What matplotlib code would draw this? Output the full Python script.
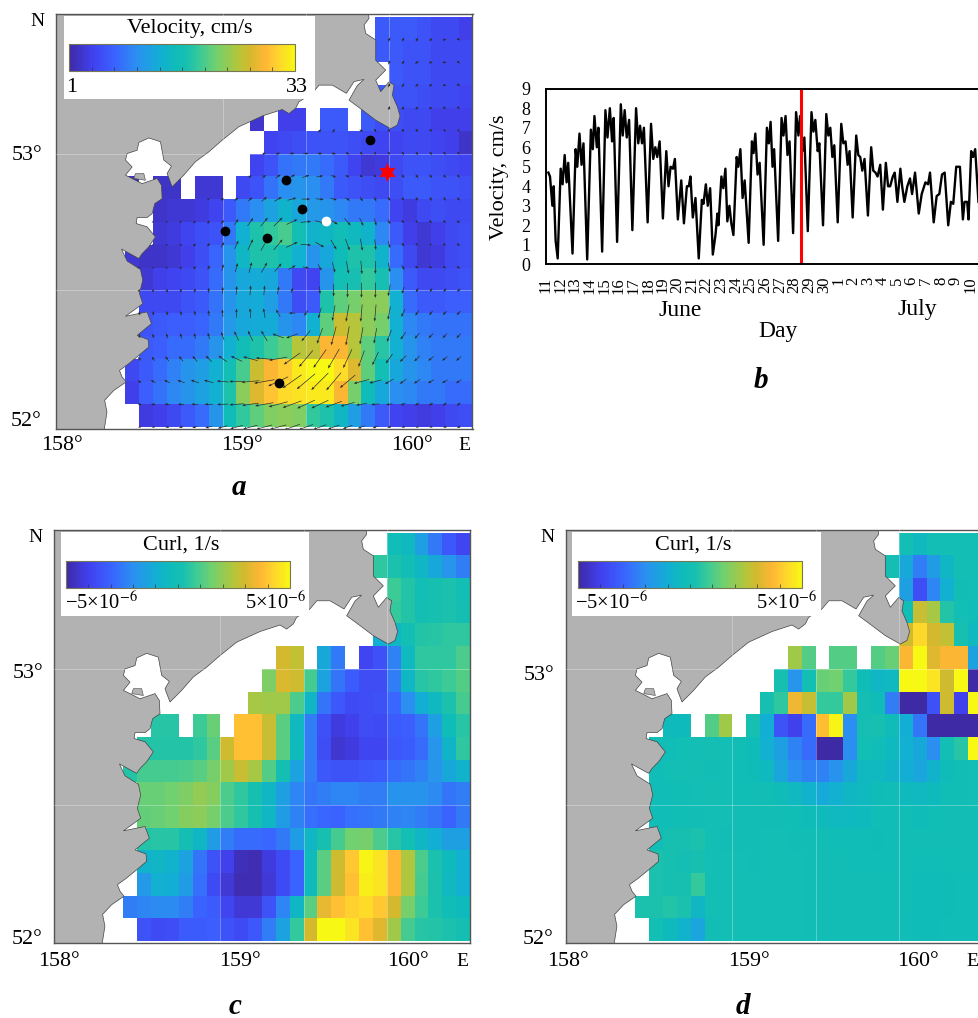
# plot.py - current velocity and curl maps off Kamchatka, with a velocity series
import numpy as np
import matplotlib
matplotlib.use('Agg')
from matplotlib import pyplot as plt
from matplotlib.colors import LinearSegmentedColormap

plt.rcParams['font.family'] = ['Liberation Serif', 'DejaVu Sans']
plt.rcParams['mathtext.fontset'] = 'stix'

W, H = 979, 1018
n = np.nan

# grid of the maps: cell edges in degrees
lon_edges = 158.0 + (np.arange(26) + 5) / 12
lat_edges = 52.0 + np.arange(19) / 12

# velocity, cm/s, northernmost row first
velocity = [
    [n]*18 + [6.5,6.5,6.5,6,5,5,4],
    [n]*18 + [6.5,6.5,6,6,5,5,5],
    [n]*19 + [6.5,6,6,5,5,5],
    [n]*18 + [6.5,6,6,5.5,5,5,4.5],
    [n]*9 + [2.8,n,4,4,n,6.5,6.5,n,6.5,5.5,5.5,5,5,4,4,4],
    [n]*10 + [4.5,5,5.5,6,6,6,5.5,5,4.5,4.5,5,5,4.5,4,2.5],
    [n]*9 + [4.5,6,8.5,9,9,8,6.5,4.5,3,3.5,5,6,6,5.5,5,4.5],
    [2,n,2.5,2.5,n,3,3,n,5,6,8.5,10.5,11,10.5,9,6.5,6,5.5,5,5.5,6.5,6.5,6,6,5.5],
    [n,n,2.5,3,3,3.5,4.5,6.5,9,10.5,12.5,14.5,13,11.5,11,10,9,9,8,4.5,3.5,5,5.5,5,5],
    [n,n,3,3.5,4.5,5.5,6,9,14,18,19,20,17,14.5,15,16.5,15.5,14.5,10,6.5,4,3,4,5,5.5],
    [3,2.5,2.5,3,4,5.5,7.5,11,15,18,18,17,14,11,13,16,18,18,14.5,8,5,3,3.5,5,5.5],
    [n,3,4,4.5,5,6,8,11,13,13.5,13,9,5,4.5,11,17,17.5,19,17.5,10.5,6.5,5,5,5.5,6],
    [n,5,5,5,6,6.5,8.5,11,13,13.5,12,9,5.5,6.5,18,21,22,23,23,14,8,6.5,6.5,7,7],
    [n,6,6.5,7,7,7.5,9,11.5,13,13.5,13.5,11,10,14,21,26,25,23,22,14,10,9,8.5,8.5,8.5],
    [n,6.5,7,8,8,9,11,14,16.5,18,19.5,21,25,25.5,28.5,28.5,25,21,18.5,14,11,9.5,9,9,9],
    [5,6.5,8,9.5,11,12,14,17,20,26,28.5,30,32,33,33,31,27,21,17,13,11,10,9,9,9],
    [4,7,8.5,10,11,12.5,14,18,23,27,29.5,31,31.5,32,32,28.5,22,16,13,10.5,10,9,9,8,8],
    [n,3.5,4,5,6.5,8,11,16,19,21,22.5,23,22.5,19,18,15,12,9,6.5,4.5,4,3.5,4,5,5.5],
]

# current direction at the cell corners, degrees from east, northernmost first
direction = [
    [n]*19 + [60,60,60,50,20,-30],
    [n]*19 + [60,55,45,20,0,-40],
    [n]*19 + [65,60,50,30,0,-30],
    [n]*19 + [75,60,50,30,-10,-40],
    [n]*14 + [50,60,n,-30,-60,-60,-60,-60,-60,-60,-60],
    [n]*10 + [20,20,10,0,0,-10,-30,-50,-60,-60,-60,-60,-60,-60,-60],
    [n]*9 + [30,35,35,30,20,10,-20,-30,-30,-40,-50,-50,-55,-50,-50,-50],
    [n]*6 + [30,35,40,40,40,30,15,0,-5,-15,-30,-60,-70,-60,-55,-55,-60,-60,-45],
    [n,n,0,10,20,30,45,50,55,55,50,45,25,5,-15,-30,-50,-65,-75,-60,-50,-45,-45,-45,-30],
    [n,n,20,25,30,35,40,60,65,65,60,50,25,-5,-30,-60,-70,-80,-85,-75,-60,-50,-40,-30,-30],
    [n,10,30,40,50,55,65,75,75,75,60,50,30,-10,-60,-75,-80,-85,-90,-80,-60,-40,-30,-30,-25],
    [n,60,70,80,80,80,85,85,85,85,85,80,70,n,-85,-90,-90,-90,-90,-100,-110,-120,-120,-130,-140],
    [n,90,95,100,100,100,100,95,90,95,100,120,180,-120,-105,-100,-100,-95,-95,-100,-115,-125,-130,-135,-135],
    [n,110,110,110,110,105,105,110,115,115,120,160,200,-130,-110,-105,-100,-100,-100,-110,-125,-130,-135,-135,-135],
    [n,130,125,125,130,130,135,145,155,165,175,190,215,-130,-125,-120,-115,-110,-115,-125,-135,-135,-140,-140,-140],
    [n,145,150,155,160,160,165,175,180,185,190,205,215,-140,-135,-130,-140,-165,-165,-150,-145,-145,-150,-150,-145],
    [n,165,170,175,178,178,180,182,185,188,190,195,200,205,205,200,195,190,185,190,200,210,210,215,215],
    [n,195,195,195,195,195,195,195,195,195,195,195,200,200,200,200,200,200,200,200,205,205,205,205,205],
]

# stations on map a: lon, lat
station_lon = [159.884, 159.379, 159.475, 159.016, 159.268, 159.337]
station_lat = [53.051, 52.905, 52.796, 52.715, 52.690, 52.161]
white_lon, white_lat = 159.623, 52.752
star_lon, star_lat = 159.989, 52.931

# curl, 1e-6 1/s, northernmost row first
curl_c = [
    [n]*19 + [-.2,-.5,-1.5,-2.5,-3.3,-3.8],
    [n]*18 + [.6,.3,-.1,-.6,-1.2,-1.8,-2.4],
    [n]*19 + [.8,.4,0,.2,.3,0],
    [n]*19 + [.7,.4,.1,.2,.3,.1],
    [n]*18 + [-1,-.6,0,.4,.5,.6,.6],
    [n]*11 + [3,2.7,n,-1.2,-2.5,n,-3.8,-3.5,-2.3,-.5,.6,.6,.6,1],
    [n]*10 + [1.7,3.1,2.9,.9,-1.4,-2.6,-3.2,-3.6,-3.6,-2.4,-.6,.5,.6,.8,1.1],
    [n]*9 + [2.3,2.2,2.2,1,-.6,-2.6,-3.3,-3.7,-3.6,-3.5,-2.9,-2,-1,-.5,.3,.9],
    [n,n,.5,.5,n,.8,1.4,n,3.9,3.9,2.8,1.2,-.5,-2.4,-3.5,-4.2,-4,-3.6,-3.7,-3.2,-3.1,-2.6,-1.5,-.3,.5],
    [n,.4,.4,.4,.4,.6,1.2,2.9,3.9,3.9,2.8,1.2,-.4,-2.4,-3.6,-4.4,-4.2,-3.8,-3.8,-3.3,-3.2,-2.8,-1.8,-.7,.6],
    [.4,.9,.9,.9,1,1.2,1.6,2.2,2.8,2.3,1.1,.1,-1.4,-2.4,-3.3,-3.4,-3.4,-3.3,-3.2,-2.8,-2.6,-2.3,-1.8,-1.2,-.8],
    [n,1.4,1.4,1.5,1.7,2,1.8,1,.6,.2,-.6,-1.5,-2.2,-2.6,-2.4,-2.2,-2.2,-2.4,-2.4,-1.9,-1.9,-1.9,-2.1,-2.6,-2.4],
    [n,1.3,1.4,1.5,1.8,1.9,1.6,1,.6,.2,-.6,-1.6,-2.3,-2.7,-2.9,-3,-2.7,-2.6,-2.5,-2.3,-2.2,-2.4,-2.6,-3,-2.5],
    [n,.4,.5,.5,.1,-.6,-1.6,-2.4,-2.8,-2.8,-2.9,-2.5,-1.6,-.6,.2,.9,1.5,1.6,1,.5,0,-.6,-1,-1.5,-1.5],
    [n,-.8,-.6,-.8,-1.4,-2.6,-3.4,-4,-4.7,-4.8,-4.2,-3.7,-3,-.4,1.2,2.9,4,4.9,4.6,3.7,2.4,1,.3,-.4,-.9],
    [n,-1.7,-.9,-1,-1.6,-2.7,-3.7,-4.3,-4.8,-4.8,-4.3,-3.7,-3,-.4,1.2,2.9,3.9,4.8,4.6,3.7,2.4,.9,.3,-.5,-.9],
    [-2.4,-2.2,-2.1,-2.1,-2.4,-3,-3.2,-3.8,-4.3,-4.3,-3.4,-2.2,-.6,1.2,3.3,3.9,4.2,4.4,4,3,1.6,.8,.3,-.2,-.4],
    [n,-3.4,-3.7,-3.6,-3.2,-3.2,-3.1,-3.4,-3.7,-3.3,-2.4,-1.4,.7,3,5,5,4.6,3.9,3.2,2.2,.9,.5,.4,.3,.1],
]

curl_d = [
    [n]*19 + [0,-.5,0,0,0,0],
    [n]*18 + [.1,-1.2,-2.4,-1.6,-.6,0,0],
    [n]*19 + [-1.5,-3.6,-2.2,-.9,-.1,0],
    [n]*19 + [-.2,2.8,2.3,.4,0,-.2],
    [n]*19 + [2.9,4.3,3,2.7,.2,-.5],
    [n]*11 + [2.2,1.1,n,1.1,1.1,n,1.1,1.4,3.6,5,3.2,3.6,3.6,-1.4],
    [n]*10 + [.2,-1.8,0,1.4,1.5,.7,-.3,-.6,-.5,5,5,4.6,2.9,5,-5],
    [n]*9 + [.2,.6,3.4,2.8,.7,.7,2.2,.1,-.3,-2.4,-5,-5,-3.5,2.9,-4,5],
    [n,n,-.4,-.4,n,1.1,2.2,n,.2,-1,-3.4,-4,-2.8,3.8,4.9,-2,.1,.2,-.3,-1,-2.6,-5,-5,-5,-5],
    [n,-.2,-.2,0,0,.1,0,-.1,-.3,-.9,-1.5,-2.3,-2.8,-5,-5,-2,0,-.2,-.5,-.9,-1.2,-2,0,.5,5],
    [n,-.2,0,.1,.1,-.1,0,-.2,-.3,-.5,-1.3,-2,-2.3,-2.3,-1.9,-1.2,-.5,-.5,-.7,-1,-1.3,-.8,-.3,-.1,0],
    [n,-.2,-.2,-.1,0,.1,0,-.2,-.1,-.1,-.3,-.5,-.8,-1.1,-.9,-.6,-.5,-.3,-.2,-.4,-.5,-.4,-.2,-.1,0],
    [n,-.2,-.2,-.1,-.1,0,0,-.1,-.1,-.1,-.1,-.2,-.3,-.4,-.5,-.5,-.4,-.2,-.2,-.2,-.3,-.2,-.1,-.1,-.1],
    [n,-.2,.2,.2,.3,0,-.1,-.1,-.1,0,0,-.1,-.1,-.1,-.2,-.2,-.2,-.3,-.2,-.2,-.1,-.1,-.1,-.1,-.1],
    [n,.3,.2,.1,.2,0,0,0,-.1,0,0,0,-.1,-.1,-.1,-.2,-.2,-.2,-.2,-.2,-.2,-.2,-.2,-.1,-.1],
    [n,.3,.2,.2,.7,0,0,0,0,0,0,0,-.1,-.1,-.1,-.1,-.1,-.1,-.2,-.2,-.3,-.3,-.3,-.2,-.2],
    [.3,.3,.4,.3,-.6,0,0,0,0,0,0,0,-.1,-.1,-.1,-.1,-.1,-.1,-.2,-.2,-.3,-.3,-.3,-.2,-.2],
    [n,0,-.4,-.8,-1.3,-.1,0,0,0,0,0,0,-.1,-.1,-.1,-.1,-.1,-.1,-.1,-.2,-.3,-.3,-.2,-.2,-.2],
]

# land outline, degrees
coast_lon = [158.0, 159.859, 159.879, 159.849, 159.859, 159.919, 159.919, 159.979, 159.919, 159.949,
    159.999, 160.029, 160.019, 160.049, 160.065, 160.049, 160.009, 159.919, 159.839, 159.759,
    159.809, 159.849, 159.789, 159.743, 159.659, 159.579, 159.538, 159.458, 159.438, 159.398,
    159.358, 159.238, 159.098, 158.998, 158.917, 158.837, 158.767, 158.697, 158.667, 158.693,
    158.647, 158.627, 158.557, 158.497, 158.487, 158.427, 158.417, 158.457, 158.417, 158.517,
    158.607, 158.633, 158.637, 158.593, 158.577, 158.547, 158.487, 158.481, 158.547, 158.597,
    158.557, 158.517, 158.497, 158.393, 158.427, 158.507, 158.521, 158.501, 158.521, 158.417,
    158.547, 158.573, 158.487, 158.553, 158.557, 158.497, 158.437, 158.381, 158.397, 158.421,
    158.347, 158.292, 158.306, 158.266, 158.0]
coast_lat = [53.6, 53.6, 53.494, 53.470, 53.439, 53.415, 53.341, 53.305, 53.268, 53.226,
    53.262, 53.250, 53.213, 53.171, 53.137, 53.104, 53.091, 53.122, 53.159, 53.195,
    53.249, 53.271, 53.263, 53.220, 53.250, 53.250, 53.220, 53.189, 53.165, 53.146,
    53.161, 53.137, 53.098, 53.049, 53.006, 52.970, 52.921, 52.878, 52.927, 52.954,
    52.976, 53.043, 53.057, 53.040, 53.012, 53.000, 52.976, 52.951, 52.921, 52.890,
    52.909, 52.884, 52.835, 52.817, 52.780, 52.766, 52.766, 52.744, 52.732, 52.695,
    52.659, 52.634, 52.616, 52.651, 52.607, 52.576, 52.537, 52.488, 52.451, 52.405,
    52.421, 52.378, 52.335, 52.320, 52.293, 52.262, 52.232, 52.207, 52.183, 52.165,
    52.134, 52.098, 52.055, 51.9, 51.9]
island_lon = [158.477, 158.527, 158.537, 158.467]
island_lat = [52.927, 52.927, 52.902, 52.909]

# series b: days since 11 June, velocity in cm/s
days = [.07,.18,.34,.43,.56,.70,.90,1.03,1.17,1.30,1.41,1.70,1.91,2.02,2.17,2.31,2.44,2.69,2.94,3.07,
    3.18,3.34,3.45,3.70,3.92,4.06,4.22,4.37,4.48,4.71,4.96,5.09,5.22,5.36,5.52,5.74,5.99,6.14,6.26,6.39,
    6.52,6.77,7.00,7.15,7.29,7.42,7.58,7.80,8.03,8.18,8.32,8.48,8.61,8.81,9.04,9.22,9.42,9.55,9.66,9.82,
    10.0,10.22,10.43,10.54,10.70,10.83,10.99,11.17,11.35,11.48,11.55,11.75,11.88,12.02,12.15,12.29,12.42,12.56,12.78,12.89,
    13.03,13.18,13.32,13.59,13.81,13.92,14.04,14.19,14.33,14.60,14.82,14.95,15.07,15.20,15.31,15.58,15.81,15.94,16.08,16.21,
    16.35,16.59,16.79,16.95,17.06,17.22,17.35,17.58,17.83,17.96,18.09,18.25,18.36,18.61,18.83,18.97,19.10,19.24,19.37,19.60,
    19.84,19.98,20.13,20.27,20.40,20.61,20.85,20.99,21.12,21.26,21.41,21.64,21.86,22.0,22.15,22.29,22.47,22.65,22.85,23.0,
    23.14,23.32,23.45,23.63,23.83,23.95,24.10,24.30,24.48,24.62,24.82,25.07,25.27,25.52,25.70,25.83,26.08,26.28,26.46,26.64,
    26.82,27.06,27.24,27.40,27.60,27.85,28.05,28.16,28.34,28.43,28.61,28.74,28.88,29.10]
speed = [4.7,4.5,3.0,4.0,1.2,.3,4.9,4.1,5.6,4.2,5.2,.55,5.9,5.0,6.7,5.1,6.2,.25,6.9,5.9,
    7.6,6.0,7.0,.65,7.9,6.5,8.0,6.3,7.5,1.15,8.2,6.6,7.9,6.5,7.4,1.75,8.0,6.2,7.1,6.2,
    7.0,2.15,7.2,5.4,6.0,5.5,6.3,2.35,5.8,4.0,5.0,4.9,5.4,2.3,4.3,2.1,4.0,4.0,4.5,2.4,
    3.4,.3,3.3,3.1,4.1,3.0,3.9,.5,1.5,2.6,2.0,4.5,3.9,4.9,2.2,3.0,2.1,1.5,5.5,5.0,
    5.9,3.4,4.3,1.1,6.3,5.7,6.7,4.6,5.2,1.0,7.0,6.2,7.3,5.0,5.9,1.2,7.5,6.6,7.6,5.6,
    6.3,1.6,7.8,6.6,7.6,5.8,6.5,1.7,7.8,6.8,7.4,5.8,6.2,2.0,7.7,6.6,7.0,5.5,6.1,2.15,
    7.2,6.2,6.3,5.1,5.8,2.4,6.6,5.6,5.5,4.8,5.4,2.5,6.0,4.8,4.7,4.5,5.1,2.8,5.2,4.0,
    4.0,4.5,4.7,3.2,4.9,4.0,3.2,4.0,4.4,3.6,4.7,2.6,3.6,4.2,4.1,4.7,2.15,3.5,3.6,4.6,
    4.7,2.0,3.2,3.1,5.0,5.0,2.3,3.2,3.2,2.3,5.8,5.5,5.9,3.2]
day_labels = [str(d) for d in range(11, 31)] + [str(d) for d in range(1, 11)]
marked_day = 17.1

# colours
bar_stops = [(0, '#3f2aa6'), (.1, '#4040ee'), (.2, '#3a62ff'), (.3, '#2a90f0'), (.4, '#12aed4'),
             (.47, '#0fbcb8'), (.52, '#16bfb1'), (.57, '#34c99c'), (.65, '#70d070'), (.75, '#b4c63a'),
             (.8, '#d4b92e'), (.87, '#ffb735'), (.92, '#ffd030'), (1, '#f7f813')]
cmap = LinearSegmentedColormap.from_list('bar', bar_stops)
land_color = '#b2b2b2'


def px_axes(left, top, right, bottom, **kw):
    return fig.add_axes([left/W, 1-bottom/H, (right-left)/W, (bottom-top)/H], **kw)


def px_text(x, y, s, size=15.8, ha='center', **kw):
    fig.text(x/W, 1-y/H, s, fontsize=size, ha=ha, va='center', zorder=20, **kw)


def draw_map(box, values, vmin, vmax):
    ax = px_axes(*box)
    ax.set_facecolor('white')
    mesh = ax.pcolormesh(lon_edges, lat_edges, np.array(values)[::-1], cmap=cmap, vmin=vmin, vmax=vmax,
                         linewidth=0, rasterized=True, zorder=1)
    ax.fill(coast_lon, coast_lat, facecolor=land_color, edgecolor='#444444', linewidth=.5, zorder=2)
    ax.fill(island_lon, island_lat, facecolor=land_color, edgecolor='#444444', linewidth=.4, zorder=2)
    for x in [159, 159.5, 160]:
        ax.axvline(x, color='white', lw=.6, alpha=.35, zorder=3)
    for y in [52.5, 53]:
        ax.axhline(y, color='white', lw=.6, alpha=.35, zorder=3)
    ax.set_xlim(158, 160.5)
    ax.set_ylim(51.993, 53.51)
    ax.set_xticks([])
    ax.set_yticks([])
    for s in ax.spines.values():
        s.set_color('#555555')
        s.set_linewidth(1)
    return ax, mesh


def draw_legend(box, bar, mesh, title, title_xy):
    lg = px_axes(*box, zorder=5)
    lg.set_xticks([])
    lg.set_yticks([])
    for s in lg.spines.values():
        s.set_visible(False)
    cax = px_axes(*bar, zorder=6)
    cb = fig.colorbar(mesh, cax=cax, orientation='horizontal')
    cb.set_ticks(np.linspace(mesh.norm.vmin, mesh.norm.vmax, 11)[1:-1])
    cax.tick_params(direction='in', length=3, width=.5, color='#333333', labelbottom=False)
    cb.outline.set_edgecolor('#777755')
    cb.outline.set_linewidth(.8)
    px_text(title_xy[0], title_xy[1], title, size=16)


fig = plt.figure(figsize=(W/100, H/100), dpi=100)

# map a
ax_a, mesh_a = draw_map((56, 14, 472.5, 429), velocity, 1, 33)
vel = np.array(velocity)[::-1]
ang = np.radians(np.array(direction, dtype=float)[::-1])
node_lon, node_lat = np.meshgrid(lon_edges[:-1], lat_edges[:-1])
node_speed = np.full(ang.shape, np.nan)
for k in range(ang.shape[0]):
    for j in range(ang.shape[1]):
        near = vel[max(k-1, 0):k+1, max(j-1, 0):j+1]
        if np.isfinite(near).any():
            node_speed[k, j] = np.nanmean(near)
ax_a.quiver(node_lon, node_lat, node_speed*np.cos(ang), node_speed*np.sin(ang), angles='uv',
            scale=560, scale_units='width', width=.0016, headwidth=4, headlength=5, headaxislength=4.5,
            minlength=.3, pivot='mid', color='#2a2a2a', zorder=4)
ax_a.scatter(station_lon, station_lat, s=36, color='black', zorder=6)
ax_a.scatter([white_lon], [white_lat], s=36, color='white', zorder=6)
ax_a.scatter([star_lon], [star_lat], s=190, marker=(6, 1, 0), color='#ff0000', linewidths=0, zorder=7)
draw_legend((64, 16, 315, 99), (69.3, 44, 295, 71), mesh_a, 'Velocity, cm/s', (190, 29))
px_text(72, 87, '1', size=16)
px_text(297, 87, '33', size=16)

# map c
ax_c, mesh_c = draw_map((54, 530, 470, 943), curl_c, -5, 5)
draw_legend((61, 532, 309, 616), (65.7, 561, 290, 588), mesh_c, 'Curl, 1/s', (181, 545))
px_text(65, 603, '\u22125\u00d710$^{-6}$', size=14.8, ha='left')
px_text(306, 603, '5\u00d710$^{-6}$', size=14.8, ha='right')

# map d, cut by the right edge of the page
ax_d, mesh_d = draw_map((566, 530, 982, 943), curl_d, -5, 5)
draw_legend((572, 532, 821, 616), (578, 561, 802, 588), mesh_d, 'Curl, 1/s', (693, 545))
px_text(575, 603, '\u22125\u00d710$^{-6}$', size=14.8, ha='left')
px_text(817, 603, '5\u00d710$^{-6}$', size=14.8, ha='right')

# lon and lat labels of the maps
for xs, y, ex in [((62, 242, 412), 445, 464), ((59, 240, 408), 962, 462), ((568, 749, 918), 962, 972)]:
    for x, s in zip(xs, ['158\u00b0', '159\u00b0', '160\u00b0']):
        px_text(x, y, s)
    px_text(ex, y, 'E', size=14)
for x, yn, y53, y52, xn in [(42, 22, 155, 422, 37), (43, 537, 674, 940, 35), (554, 537, 675, 940, 547)]:
    px_text(x, y53, '53\u00b0', ha='right')
    px_text(x, y52, '52\u00b0', ha='right')
    px_text(xn, yn, 'N', size=14)

# series b
ax_b = px_axes(545.7, 88.7, 982, 264.3)
ax_b.plot(days, speed, color='black', lw=1.7, solid_joinstyle='round')
ax_b.axvline(marked_day, color='#ff0000', lw=2.2)
ax_b.set_xlim(0, 29.34)
ax_b.set_ylim(0, 9)
ax_b.set_yticks(range(10))
ax_b.tick_params(axis='y', length=0, pad=11, labelsize=13)
ax_b.set_xticks(np.arange(30)*.988 - .11)
ax_b.set_xticklabels(day_labels, rotation=90, fontsize=12)
ax_b.tick_params(axis='x', length=0, pad=9)
for s in ax_b.spines.values():
    s.set_linewidth(1.4)
px_text(500, 177, 'Velocity, cm/s', size=16, rotation=90)
px_text(680, 311, 'June', size=17)
px_text(917, 310, 'July', size=17)
px_text(778, 332, 'Day', size=17)

# panel letters
for x, y, s in [(239, 488, 'a'), (761, 380, 'b'), (235, 1006, 'c'), (743, 1006, 'd')]:
    px_text(x, y, s, size=21, weight='bold', style='italic')

plt.savefig('out.png', dpi=100)
